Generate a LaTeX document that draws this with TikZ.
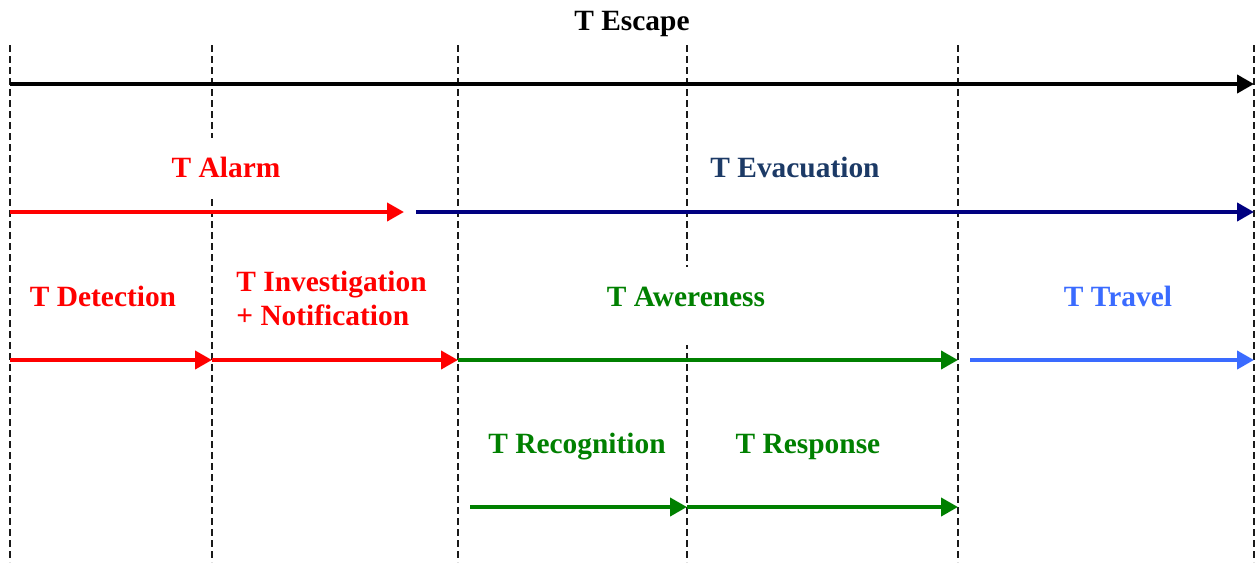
\documentclass[tikz,border=0pt]{standalone}
\usepackage{fontspec}
\setmainfont{Liberation Serif}
\usetikzlibrary{arrows.meta}
\definecolor{Ink}{HTML}{1A1A1A}
\definecolor{AlarmRed}{HTML}{FF0000}
\definecolor{EvacNavy}{HTML}{000080}
\definecolor{EvacText}{HTML}{1C3A66}
\definecolor{AwareGreen}{HTML}{008000}
\definecolor{TravelBlue}{HTML}{3A6BFF}
\tikzset{
  guide/.style={Ink,line width=0.7pt,dash pattern=on 3.5pt off 2pt},
  span/.style={line width=2pt,-{Triangle[length=8.5pt,width=9pt]}},
  lbl/.style={font=\bfseries\fontsize{14.7}{17}\selectfont,fill=white,inner sep=0pt,anchor=base},
}

\begin{document}
\begin{tikzpicture}[x=0.5pt,y=-0.5pt]
\useasboundingbox (0,0) rectangle (1257,562);
% dashed time marks
\foreach \n/\x in {0/10,1/212,2/458,3/687,4/958,5/1254} {
  \coordinate (top\n) at (\x,45);
  \coordinate (bot\n) at (\x,562);
  \draw[guide] (top\n) -- (bot\n);
}
% rows of the arrows
\coordinate (rowEsc) at (0,84);
\coordinate (rowAlarm) at (0,212);
\coordinate (rowPhase) at (0,360);
\coordinate (rowSub) at (0,507);
\coordinate (alarmEnd) at (404,212);
\coordinate (evacStart) at (416,212);
\coordinate (travelStart) at (970,360);
\coordinate (recogStart) at (470,507);

% labels
\node[lbl] (escape) at (632,30) {T Escape};
\node[lbl,text=AlarmRed,text height=19.5pt,text depth=9pt] (alarm) at (226,177) {T Alarm};
\node[lbl,text=EvacText] (evac) at (795,177) {T Evacuation};
\node[lbl,text=AlarmRed] (detect) at (103,306) {T Detection};
\node[lbl,text=AlarmRed,align=left,anchor=west,font=\bfseries\fontsize{14.7}{17}\selectfont] (invest) at (236,298) {T Investigation\\+ Notification};
\node[lbl,text=AwareGreen,text height=19.5pt,text depth=19.5pt] (aware) at (686,306) {T Awereness};
\node[lbl,text=TravelBlue] (travel) at (1118,306) {T Travel};
\node[lbl,text=AwareGreen] (recog) at (577,453) {T Recognition};
\node[lbl,text=AwareGreen] (resp) at (808,453) {T Response};

% arrows
\draw[span,black] (top0 |- rowEsc) -- (top5 |- rowEsc);
\draw[span,AlarmRed] (top0 |- rowAlarm) -- (alarmEnd);
\draw[span,EvacNavy] (evacStart) -- (top5 |- rowAlarm);
\draw[span,AlarmRed] (top0 |- rowPhase) -- (top1 |- rowPhase);
\draw[span,AlarmRed] (top1 |- rowPhase) -- (top2 |- rowPhase);
\draw[span,AwareGreen] (top2 |- rowPhase) -- (top4 |- rowPhase);
\draw[span,TravelBlue] (travelStart) -- (top5 |- rowPhase);
\draw[span,AwareGreen] (recogStart) -- (top3 |- rowSub);
\draw[span,AwareGreen] (top3 |- rowSub) -- (top4 |- rowSub);
\end{tikzpicture}
\end{document}
